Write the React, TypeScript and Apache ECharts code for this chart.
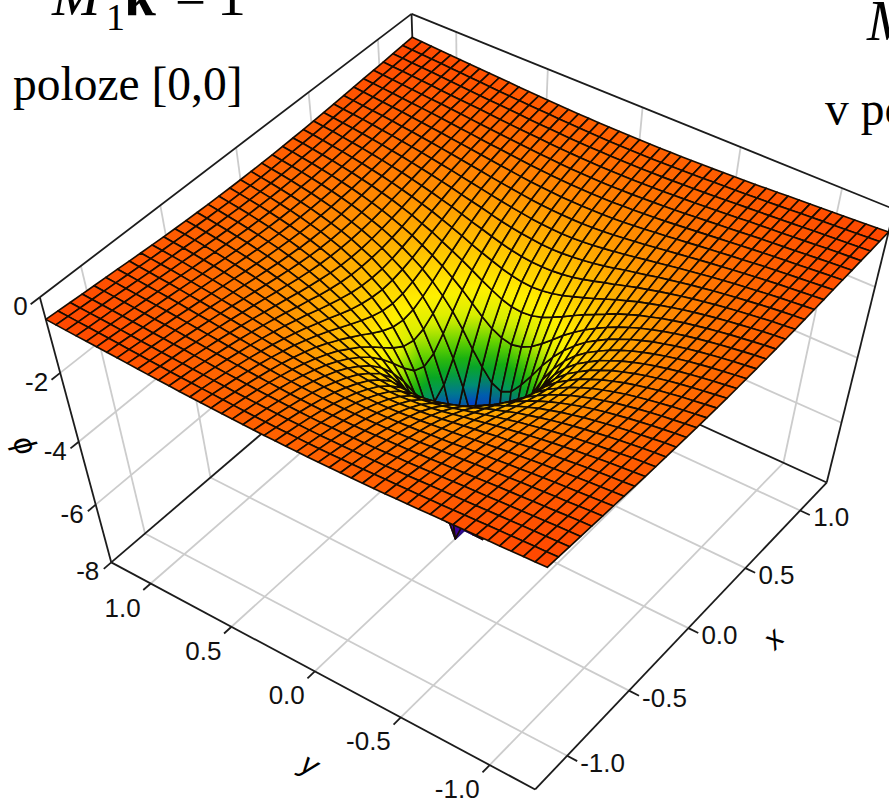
import React, { useEffect, useRef } from "react";
import * as echarts from "echarts";

const WIDTH = 889;
const HEIGHT = 802;
const HALF = 1.25;
const Z_MIN = -8;
const CELLS_X = 34;
const CELLS_Y = 46;

const xyTicks = [-1, -0.5, 0, 0.5, 1];
const xyTickLabels = ["-1.0", "-0.5", "0.0", "0.5", "1.0"];
const zTicks = [0, -2, -4, -6, -8];
const zTickLabels = ["0", "-2", "-4", "-6", "-8"];

// Radial profile of the well
const radius = [0, 0.148, 0.175, 0.2, 0.225, 0.25, 0.3, 0.35, 0.4, 0.45, 0.5, 0.6, 0.7, 0.8, 0.9, 1, 1.1, 1.25, 1.5, 1.77];
const phi = [-8, -8, -5.7, -5, -4.45, -4, -3.33, -2.86, -2.5, -2.22, -2, -1.67, -1.43, -1.25, -1.11, -1, -0.91, -0.8, -0.67, -0.565];

// Colour scale
const colorZ = [-8, -6.5, -5, -4.6, -4, -3.5, -3, -2.5, -2, -1.33, -0.565];
const colorStops = [
  [70, 0, 150], [30, 10, 190], [0, 70, 200], [0, 140, 120], [10, 170, 20],
  [100, 210, 0], [215, 238, 0], [255, 240, 0], [255, 205, 0], [255, 150, 0], [255, 70, 0],
];

// Camera fit: box points [x, y, z] and where they appear [u, v]
const cameraFit = [
  [-HALF, HALF, 0, 40, 297], [HALF, HALF, 0, 412, 13], [HALF, -HALF, 0, 893, 212],
  [-HALF, HALF, -8, 113, 560], [-HALF, -HALF, -8, 535, 787], [HALF, -HALF, -8, 825, 483],
  [-1, -HALF, -8, 568, 755], [-0.5, -HALF, -8, 630, 690], [0, -HALF, -8, 688, 629], [0.5, -HALF, -8, 746, 568], [1, -HALF, -8, 802, 511],
  [-HALF, 1, -8, 150, 583], [-HALF, 0.5, -8, 232, 627], [-HALF, 0, -8, 315, 672], [-HALF, -0.5, -8, 400, 718], [-HALF, -1, -8, 488, 767],
  [-HALF, HALF, -2, 60, 374], [-HALF, HALF, -4, 77, 443], [-HALF, HALF, -6, 95, 506],
  [-HALF, -HALF, -0.565, 548, 568], [-HALF, HALF, -0.565, 47, 318], [HALF, -HALF, -0.565, 889, 228], [HALF, HALF, -0.565, 412, 38],
];

function solveCamera(pts: number[][]) {
  const n = 11;
  const A = Array.from({ length: n }, () => new Array(n + 1).fill(0));
  const add = (r: number[], b: number) => {
    for (let i = 0; i < n; i++) {
      for (let j = 0; j < n; j++) A[i][j] += r[i] * r[j];
      A[i][n] += r[i] * b;
    }
  };
  pts.forEach(([X, Y, Z, u, v]) => {
    add([X, Y, Z, 1, 0, 0, 0, 0, -u * X, -u * Y, -u * Z], u);
    add([0, 0, 0, 0, X, Y, Z, 1, -v * X, -v * Y, -v * Z], v);
  });
  for (let c = 0; c < n; c++) {
    let p = c;
    for (let r = c + 1; r < n; r++) if (Math.abs(A[r][c]) > Math.abs(A[p][c])) p = r;
    [A[c], A[p]] = [A[p], A[c]];
    for (let r = 0; r < n; r++) {
      if (r === c) continue;
      const f = A[r][c] / A[c][c];
      for (let k = c; k <= n; k++) A[r][k] -= f * A[c][k];
    }
  }
  return A.map((row, i) => row[n] / row[i]);
}
const P = solveCamera(cameraFit);
function project(x: number, y: number, z: number) {
  const w = P[8] * x + P[9] * y + P[10] * z + 1;
  return [
    (P[0] * x + P[1] * y + P[2] * z + P[3]) / w,
    (P[4] * x + P[5] * y + P[6] * z + P[7]) / w,
    w,
  ];
}

function lookup(xs: number[], ys: number[], t: number) {
  if (t <= xs[0]) return ys[0];
  for (let i = 1; i < xs.length; i++) {
    if (t <= xs[i]) {
      const f = (t - xs[i - 1]) / (xs[i] - xs[i - 1]);
      return ys[i - 1] + f * (ys[i] - ys[i - 1]);
    }
  }
  return ys[ys.length - 1];
}
function colorAt(z: number) {
  const c = [0, 1, 2].map((k) => Math.round(lookup(colorZ, colorStops.map((s) => s[k]), z)));
  return `rgb(${c[0]},${c[1]},${c[2]})`;
}
function nodeAt(i: number, j: number) {
  const x = -HALF + (2 * HALF * i) / CELLS_X;
  const y = -HALF + (2 * HALF * j) / CELLS_Y;
  return [x, y, lookup(radius, phi, Math.hypot(x, y))];
}

// Surface cells ordered back to front
const cells: number[][] = [];
for (let i = 0; i < CELLS_X; i++) {
  for (let j = 0; j < CELLS_Y; j++) {
    const c = [nodeAt(i, j), nodeAt(i + 1, j), nodeAt(i + 1, j + 1), nodeAt(i, j + 1)];
    const d = c.reduce((s, n) => s + project(n[0], n[1], n[2])[2], 0) / 4;
    cells.push([i, j, d]);
  }
}
cells.sort((a, b) => b[2] - a[2]);

// Box lines: [x1,y1,z1,x2,y2,z2,kind] kind 0 = grid, 1 = frame
const boxLines: number[][] = [];
xyTicks.forEach((t) => {
  boxLines.push([t, -HALF, Z_MIN, t, HALF, Z_MIN, 0]);
  boxLines.push([-HALF, t, Z_MIN, HALF, t, Z_MIN, 0]);
  boxLines.push([t, HALF, Z_MIN, t, HALF, 0, 0]);
  boxLines.push([HALF, t, Z_MIN, HALF, t, 0, 0]);
});
zTicks.slice(1, 4).forEach((t) => {
  boxLines.push([-HALF, HALF, t, HALF, HALF, t, 0]);
  boxLines.push([HALF, HALF, t, HALF, -HALF, t, 0]);
});
[
  [-HALF, HALF, 0, HALF, HALF, 0], [HALF, HALF, 0, HALF, -HALF, 0],
  [-HALF, HALF, Z_MIN, -HALF, HALF, 0], [HALF, -HALF, Z_MIN, HALF, -HALF, 0], [HALF, HALF, Z_MIN, HALF, HALF, 0],
  [-HALF, HALF, Z_MIN, -HALF, -HALF, Z_MIN], [-HALF, -HALF, Z_MIN, HALF, -HALF, Z_MIN],
  [-HALF, HALF, Z_MIN, HALF, HALF, Z_MIN], [HALF, HALF, Z_MIN, HALF, -HALF, Z_MIN],
].forEach((l) => boxLines.push([...l, 1]));
const TICK = 0.055;
xyTicks.forEach((t) => {
  boxLines.push([t, -HALF, Z_MIN, t, -HALF - TICK, Z_MIN, 1]);
  boxLines.push([-HALF, t, Z_MIN, -HALF - TICK, t, Z_MIN, 1]);
});
zTicks.forEach((t) => boxLines.push([-HALF, HALF, t, -HALF - TICK, HALF, t, 1]));

// Tick labels: [x, y, z, label index, axis]
const tickItems: number[][] = [];
xyTicks.forEach((t, i) => {
  tickItems.push([t, -HALF, Z_MIN, i, 0]);
  tickItems.push([-HALF, t, Z_MIN, i, 1]);
});
zTicks.forEach((t, i) => tickItems.push([-HALF, HALF, t, i, 2]));

const SANS = "Liberation Sans";
const SERIF = "Liberation Serif";

export default function App() {
  const ref = useRef<HTMLDivElement>(null);
  useEffect(() => {
    document.body.style.margin = "0";
    const chart = echarts.init(ref.current!, null, { renderer: "svg" });
    // baseline is converted to the top of the text line
    const bigText = (text: string, x: number, baseline: number, size: number, extra: any = {}) => ({
      type: "text",
      x,
      y: baseline - 0.84 * size,
      silent: true,
      style: { text, fontFamily: SERIF, fontSize: size, fill: "#000", textAlign: "left", ...extra },
    });
    chart.setOption({
      animation: false,
      backgroundColor: "#fff",
      grid: { left: 0, right: 0, top: 0, bottom: 0 },
      xAxis: { type: "value", min: 0, max: WIDTH, show: false },
      yAxis: { type: "value", min: 0, max: HEIGHT, inverse: true, show: false },
      graphic: [
        bigText("M", 52, 15, 58, { fontStyle: "italic" }),
        bigText("1", 106, 30, 38),
        bigText("κ", 124, 15, 58, { fontWeight: "bold" }),
        bigText("=", 175, 15, 55),
        bigText("1", 217, 15, 58),
        bigText("poloze [0,0]", 13, 100, 47.5),
        bigText("M", 867, 40, 58, { fontStyle: "italic" }),
        bigText("v poloze", 825, 125, 47.5),
        {
          type: "text", x: 25, y: 445, rotation: -1.15, silent: true,
          style: { text: "ϕ", fontFamily: SANS, fontStyle: "italic", fontSize: 31, fill: "#000", textAlign: "center", textVerticalAlign: "middle" },
        },
        {
          type: "text", x: 310, y: 764, rotation: -0.5, silent: true,
          style: { text: "y", fontFamily: SANS, fontStyle: "italic", fontSize: 30, fill: "#000", textAlign: "center", textVerticalAlign: "middle" },
        },
        {
          type: "text", x: 773, y: 638, rotation: 0.8, silent: true,
          style: { text: "x", fontFamily: SANS, fontStyle: "italic", fontSize: 30, fill: "#000", textAlign: "center", textVerticalAlign: "middle" },
        },
      ],
      series: [
        {
          type: "custom",
          coordinateSystem: "cartesian2d",
          silent: true,
          clip: false,
          z: 1,
          data: boxLines,
          renderItem: (_: any, api: any) => {
            const v = [0, 1, 2, 3, 4, 5, 6].map((k) => api.value(k));
            const a = project(v[0], v[1], v[2]);
            const b = project(v[3], v[4], v[5]);
            const p = api.coord([a[0], a[1]]);
            const q = api.coord([b[0], b[1]]);
            return {
              type: "line",
              shape: { x1: p[0], y1: p[1], x2: q[0], y2: q[1] },
              style: v[6] ? { stroke: "#1c1c1c", lineWidth: 1.8 } : { stroke: "#cccccc", lineWidth: 1.8 },
              z2: v[6] ? 2 : 1,
            };
          },
        },
        {
          type: "custom",
          coordinateSystem: "cartesian2d",
          silent: true,
          clip: false,
          z: 2,
          data: cells,
          renderItem: (_: any, api: any) => {
            const i = api.value(0);
            const j = api.value(1);
            const nodes = [nodeAt(i, j), nodeAt(i + 1, j), nodeAt(i + 1, j + 1), nodeAt(i, j + 1)];
            const pts = nodes.map((n) => {
              const s = project(n[0], n[1], n[2]);
              return api.coord([s[0], s[1]]);
            });
            const zs = nodes.map((n) => n[2]);
            const zHi = Math.max(...zs);
            const zLo = Math.min(...zs);
            let fill: any = colorAt((zHi + zLo) / 2);
            if (zHi - zLo > 0.15) {
              const a = pts[zs.indexOf(zHi)];
              const b = pts[zs.indexOf(zLo)];
              const steps = [0, 0.25, 0.5, 0.75, 1].map((f) => ({ offset: f, color: colorAt(zHi + (zLo - zHi) * f) }));
              fill = new echarts.graphic.LinearGradient(a[0], a[1], b[0], b[1], steps, true);
            }
            return {
              type: "polygon",
              shape: { points: pts },
              style: { fill, stroke: zHi < -6.5 ? "#2a1080" : "#170c02", lineWidth: 1.65, lineJoin: "round" },
            };
          },
        },
        {
          type: "custom",
          coordinateSystem: "cartesian2d",
          silent: true,
          clip: false,
          z: 3,
          data: tickItems,
          renderItem: (_: any, api: any) => {
            const s = project(api.value(0), api.value(1), api.value(2));
            const idx = api.value(3);
            const axis = api.value(4);
            const p = api.coord([s[0], s[1]]);
            const text = axis === 2 ? zTickLabels[idx] : xyTickLabels[idx];
            const off = axis === 0 ? [13, 7, "left"] : axis === 1 ? [-10, 24, "right"] : [-12, 9, "right"];
            return {
              type: "text",
              x: p[0] + (off[0] as number),
              y: p[1] + (off[1] as number),
              style: { text, fontFamily: SANS, fontSize: 26, fill: "#111", textAlign: off[2], textVerticalAlign: "middle" },
            };
          },
        },
      ],
    });
    return () => chart.dispose();
  }, []);
  return <div ref={ref} style={{ width: WIDTH, height: HEIGHT }} />;
}
